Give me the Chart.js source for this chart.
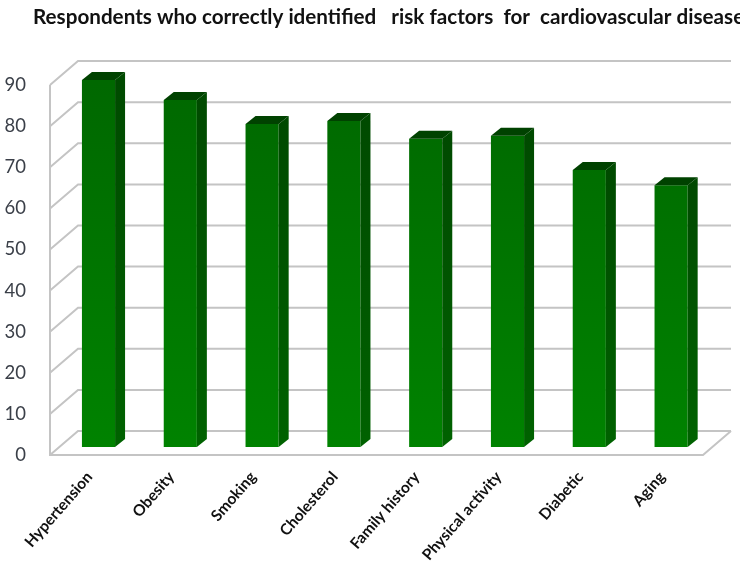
<!DOCTYPE html>
<html>
<head>
<meta charset="utf-8">
<style>
  html, body { margin: 0; padding: 0; background: #fff; overflow: hidden; }
  canvas { display: block; }
</style>
<script src="https://cdn.jsdelivr.net/npm/chart.js@4"></script>
</head>
<body>
<canvas id="myChart" width="740" height="566"></canvas>
<script>
const categories = ["Hypertension", "Obesity", "Smoking", "Cholesterol", "Family history", "Physical activity", "Diabetic", "Aging"];
const respondents = [89.3, 84.4, 78.6, 79.3, 75, 75.7, 67.4, 63.7];
const yTicks = [0, 10, 20, 30, 40, 50, 60, 70, 80, 90];
const titleText = "Respondents who correctly identified   risk factors  for  cardiovascular disease";

// fake 3D depth, in pixels
const wall = { dx: 28, dy: -24, left: 7.6 };
const bar3d = { dx: 10, dy: -8 };
const gridColor = "#c4c4c4";

const walls = {
  id: "walls",
  afterLayout(chart) {
    // title is indented and runs off the right edge of the page
    chart.titleBlock.left = 33;
    chart.titleBlock.right = 780;
  },
  beforeDatasetsDraw(chart) {
    const ctx = chart.ctx;
    const y = chart.scales.y;
    const left = chart.chartArea.left - wall.left;
    const right = chart.chartArea.right - 9;
    ctx.save();
    ctx.strokeStyle = gridColor;
    ctx.lineWidth = 2;
    yTicks.forEach((v) => {
      const py = y.getPixelForValue(v);
      ctx.beginPath();
      ctx.moveTo(left, py);
      ctx.lineTo(left + wall.dx, py + wall.dy);
      ctx.lineTo(right + wall.dx, py + wall.dy);
      ctx.stroke();
    });
    const y0 = y.getPixelForValue(0);
    ctx.beginPath();
    ctx.moveTo(left, y.getPixelForValue(90));
    ctx.lineTo(left, y0);
    ctx.lineTo(right, y0);
    ctx.lineTo(right + wall.dx, y0 + wall.dy);
    ctx.stroke();
    ctx.restore();
  },
};

const barSides = {
  id: "barSides",
  afterDatasetsDraw(chart) {
    const ctx = chart.ctx;
    const base = chart.scales.yBars.getPixelForValue(0);
    ctx.save();
    chart.getDatasetMeta(0).data.forEach((b) => {
      const l = b.x - b.width / 2;
      const r = b.x + b.width / 2;
      const side = ctx.createLinearGradient(0, b.y, 0, base);
      side.addColorStop(0, "#004a00");
      side.addColorStop(1, "#006200");
      ctx.fillStyle = side;
      ctx.beginPath();
      ctx.moveTo(r, b.y);
      ctx.lineTo(r + bar3d.dx, b.y + bar3d.dy);
      ctx.lineTo(r + bar3d.dx, base + bar3d.dy);
      ctx.lineTo(r, base);
      ctx.closePath();
      ctx.fill();
      ctx.fillStyle = "#004200";
      ctx.beginPath();
      ctx.moveTo(l, b.y);
      ctx.lineTo(l + bar3d.dx, b.y + bar3d.dy);
      ctx.lineTo(r + bar3d.dx, b.y + bar3d.dy);
      ctx.lineTo(r, b.y);
      ctx.closePath();
      ctx.fill();
    });
    ctx.restore();
  },
};

// front face gets darker towards the top
function frontColor(context) {
  const area = context.chart.chartArea;
  if (!area) return "#007000";
  const g = context.chart.ctx.createLinearGradient(0, area.top + 40, 0, area.bottom);
  g.addColorStop(0, "#006800");
  g.addColorStop(1, "#008300");
  return g;
}

new Chart("myChart", {
  type: "bar",
  data: {
    labels: categories,
    datasets: [
      {
        label: "Respondents",
        data: respondents,
        yAxisID: "yBars",
        backgroundColor: frontColor,
        borderWidth: 0,
        barPercentage: 0.405,
        categoryPercentage: 1,
      },
    ],
  },
  options: {
    responsive: false,
    animation: false,
    layout: { padding: { left: 0, right: 28, top: 0, bottom: 0 } },
    plugins: {
      legend: { display: false },
      tooltip: { enabled: false },
      title: {
        display: true,
        text: titleText,
        align: "start",
        color: "#111",
        font: { family: "Lato", size: 20.65, weight: "bold" },
        padding: { top: 5, bottom: 14.22 },
      },
    },
    scales: {
      x: {
        grid: { display: false },
        border: { display: false },
        ticks: {
          autoSkip: false,
          minRotation: 49,
          maxRotation: 49,
          padding: 5,
          labelOffset: -9,
          color: "#111",
          font: { family: "Lato", size: 15.5, weight: "bold" },
        },
        afterFit(scale) {
          scale.height = 111;
        },
      },
      y: {
        min: 0,
        max: 100,
        grid: { display: false },
        border: { display: false },
        afterBuildTicks(scale) {
          scale.ticks = yTicks.map((v) => ({ value: v }));
        },
        ticks: {
          padding: 23.6,
          color: "#3a3f48",
          font: { family: "Lato", size: 18.5 },
        },
        afterFit(scale) {
          scale.width = 57.6;
        },
      },
      yBars: {
        display: false,
        min: -1.95,
        max: 98.05,
      },
    },
  },
  plugins: [walls, barSides],
});
</script>
</body>
</html>
